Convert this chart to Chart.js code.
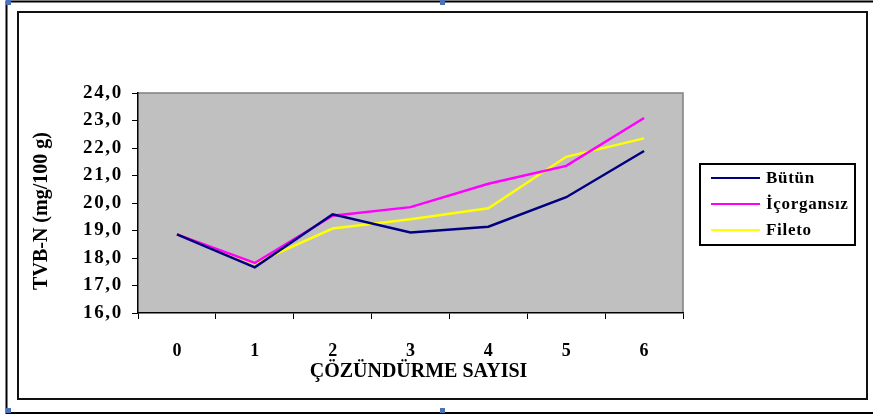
<!DOCTYPE html>
<html>
<head>
<meta charset="utf-8">
<script src="https://cdn.jsdelivr.net/npm/chart.js@4.4.1/dist/chart.umd.min.js"></script>
<style>
  html, body { margin: 0; padding: 0; background: #fff; }
  #wrap { width: 873px; height: 415px; position: relative; }
</style>
</head>
<body>
<div id="wrap"><canvas id="tvbChart" width="873" height="415"></canvas></div>
<script>
const cycles = ['0', '1', '2', '3', '4', '5', '6'];
const butun = [18.86, 17.66, 19.59, 18.93, 19.14, 20.21, 21.89];
const icorgansiz = [18.86, 17.82, 19.54, 19.85, 20.70, 21.35, 23.09];
const fileto = [18.86, 17.80, 19.07, 19.41, 19.81, 21.68, 22.35];
const seriesNames = ['Bütün', 'İçorgansız', 'Fileto'];
const seriesColors = ['#000080', '#ff00ff', '#ffff00'];

const serif = '"Liberation Serif", "Times New Roman", serif';

// wide-set tick labels and slightly shifted titles, like the old office chart
const patchScale = (scale, spacing, dx, dy) => {
    if (scale._patched) return;
    scale._patched = true;
    const drawLabels = scale.drawLabels;
    const drawTitle = scale.drawTitle;
    scale.drawLabels = function (area) {
        const c = this.ctx;
        const prev = c.letterSpacing;
        c.letterSpacing = spacing;
        drawLabels.call(this, area);
        c.letterSpacing = prev;
    };
    scale.drawTitle = function () {
        const c = this.ctx;
        c.save();
        c.translate(dx, dy);
        drawTitle.call(this);
        c.restore();
    };
};

// grey plot area, frames and the boxed legend
const decor = {
    id: 'decor',
    beforeDraw(chart) {
        patchScale(chart.scales.y, '1.7px', 0, 8);
        patchScale(chart.scales.x, '0px', 8, 0);
        const { ctx, chartArea: a } = chart;
        ctx.save();
        ctx.fillStyle = '#fff';
        ctx.fillRect(0, 0, chart.width, chart.height);
        ctx.fillStyle = '#c0c0c0';
        ctx.fillRect(a.left, a.top, a.right - a.left, a.bottom - a.top);
        ctx.strokeStyle = '#808080';
        ctx.lineWidth = 1.5;
        ctx.beginPath();
        ctx.moveTo(a.left, a.top);
        ctx.lineTo(a.right, a.top);
        ctx.lineTo(a.right, a.bottom);
        ctx.stroke();
        ctx.restore();
    },
    afterDraw(chart) {
        const { ctx } = chart;
        ctx.save();
        // outer frame
        ctx.strokeStyle = '#000';
        ctx.lineWidth = 2;
        ctx.beginPath();
        ctx.moveTo(875, 1.5);
        ctx.lineTo(6.5, 1.5);
        ctx.lineTo(6.5, 413);
        ctx.lineTo(875, 413);
        ctx.stroke();
        // inner frame
        ctx.strokeStyle = '#111';
        ctx.strokeRect(18, 12, 849, 387);
        // selection handles
        ctx.fillStyle = '#4a72b8';
        [[6, 0], [440, 0], [6, 408], [440, 408]].forEach(([x, y]) => ctx.fillRect(x, y, 5, 5));

        // legend
        ctx.lineWidth = 2;
        ctx.strokeStyle = '#000';
        ctx.strokeRect(700, 164, 155, 81);
        ctx.font = 'bold 17px ' + serif;
        ctx.letterSpacing = '0.7px';
        ctx.textBaseline = 'middle';
        ctx.textAlign = 'left';
        chart.data.datasets.forEach((ds, i) => {
            const y = 178 + i * 26;
            ctx.strokeStyle = ds.borderColor;
            ctx.lineWidth = 2;
            ctx.beginPath();
            ctx.moveTo(711, y);
            ctx.lineTo(760, y);
            ctx.stroke();
            ctx.fillStyle = '#000';
            ctx.fillText(ds.label, 766, y + 1);
        });
        ctx.restore();
    }
};

const ctx = document.getElementById('tvbChart');

new Chart(ctx, {
    type: 'line',
    data: {
        labels: cycles,
        datasets: [butun, icorgansiz, fileto].map((vals, i) => ({
            label: seriesNames[i],
            data: vals,
            borderColor: seriesColors[i],
            backgroundColor: seriesColors[i],
            borderWidth: 2.5,
            pointRadius: 0,
            tension: 0,
            fill: false,
        })),
    },
    options: {
        responsive: false,
        animation: false,
        layout: { padding: { left: 20, right: 190, top: 93, bottom: 10 } },
        plugins: {
            legend: { display: false },
            tooltip: { enabled: false },
        },
        scales: {
            x: {
                offset: true,
                grid: {
                    offset: true,
                    drawOnChartArea: false,
                    drawTicks: true,
                    tickLength: 6,
                    color: '#000',
                },
                border: { color: '#000', width: 1.5 },
                ticks: {
                    color: '#000',
                    padding: 22,
                    font: { family: serif, size: 18, weight: 'bold' },
                },
                title: {
                    display: true,
                    text: 'ÇÖZÜNDÜRME SAYISI',
                    color: '#000',
                    font: { family: serif, size: 20, weight: 'bold' },
                    padding: { top: 0, bottom: 21 },
                },
                afterFit(scale) { scale.height = 415 - 313 - 10; },
            },
            y: {
                min: 16,
                max: 24,
                grid: {
                    drawOnChartArea: false,
                    drawTicks: true,
                    tickLength: 6,
                    color: '#000',
                },
                border: { color: '#000', width: 1.5 },
                ticks: {
                    stepSize: 1,
                    color: '#000',
                    padding: 9,
                    font: { family: serif, size: 19, weight: 'bold' },
                    callback: v => v.toFixed(1).replace('.', ','),
                },
                title: {
                    display: true,
                    text: 'TVB-N (mg/100 g)',
                    color: '#000',
                    font: { family: serif, size: 20, weight: 'bold' },
                    padding: { top: 10, bottom: 0 },
                },
                afterFit(scale) { scale.width = 138 - 20; },
            },
        },
    },
    plugins: [decor],
});
</script>
</body>
</html>
